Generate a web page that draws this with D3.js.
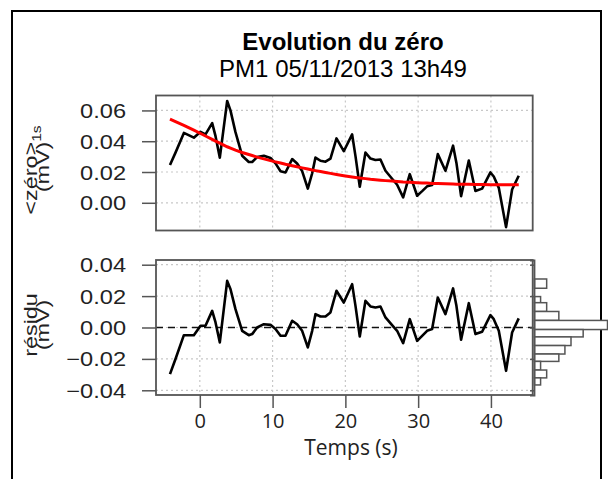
<!DOCTYPE html>
<html><head><meta charset="utf-8">
<script src="https://cdn.jsdelivr.net/npm/d3@7/dist/d3.min.js"></script>
<style>body{margin:0;background:#fff}svg{display:block}</style>
</head><body><svg id="c" width="608" height="479"></svg>
<script>
// ---- data ----
const time = [-4.1,-3.34,-2.19,-0.82,0.10,0.78,1.70,2.16,2.75,3.76,4.22,4.90,5.82,6.73,7.19,7.88,8.80,9.71,10.40,11.09,11.77,12.69,13.37,14.06,14.84,15.44,15.89,16.58,17.27,17.95,18.78,19.78,20.93,21.39,21.98,22.76,23.45,24.13,24.82,25.51,26.42,27.11,27.94,28.85,29.86,30.55,31.23,31.92,32.70,33.75,34.80,35.26,35.90,36.96,37.87,38.79,39.93,40.39,41.08,42.08,42.91,43.82];
const zero = [0.0246,0.0326,0.0454,0.0423,0.0461,0.0445,0.0518,0.0433,0.0293,0.0661,0.0599,0.0459,0.0306,0.0265,0.0265,0.0297,0.0306,0.0291,0.0256,0.0205,0.0197,0.0284,0.0255,0.0206,0.0092,0.0192,0.0294,0.0273,0.0267,0.0287,0.0418,0.0335,0.0444,0.0303,0.0104,0.0327,0.0287,0.0278,0.0281,0.0208,0.0156,0.0117,0.0035,0.0186,0.0046,0.0076,0.0107,0.0116,0.0316,0.0208,0.0371,0.0259,0.0043,0.0275,0.0077,0.0092,0.0197,0.0171,0.0097,-0.0158,0.0086,0.0176];
const fit = [0.0543,0.0527,0.0503,0.0472,0.0450,0.0434,0.0412,0.0401,0.0388,0.0364,0.0355,0.0342,0.0327,0.0314,0.0307,0.0297,0.0285,0.0274,0.0266,0.0258,0.0250,0.0241,0.0234,0.0227,0.0219,0.0213,0.0209,0.0203,0.0197,0.0191,0.0184,0.0176,0.0168,0.0165,0.0161,0.0157,0.0153,0.0150,0.0147,0.0144,0.0141,0.0138,0.0135,0.0133,0.0131,0.0129,0.0128,0.0126,0.0125,0.0123,0.0122,0.0121,0.0121,0.0120,0.0119,0.0119,0.0118,0.0118,0.0118,0.0118,0.0118,0.0118];
const residu = [-0.0297,-0.0201,-0.0049,-0.0049,0.0011,0.0011,0.0106,0.0032,-0.0095,0.0297,0.0244,0.0117,-0.0021,-0.0049,-0.0042,0.0000,0.0021,0.0017,-0.0010,-0.0053,-0.0053,0.0043,0.0021,-0.0021,-0.0127,-0.0021,0.0085,0.0070,0.0070,0.0096,0.0234,0.0159,0.0276,0.0138,-0.0057,0.0170,0.0134,0.0128,0.0134,0.0064,0.0015,-0.0021,-0.0100,0.0053,-0.0085,-0.0053,-0.0021,-0.0010,0.0191,0.0085,0.0249,0.0138,-0.0078,0.0155,-0.0042,-0.0027,0.0079,0.0053,-0.0021,-0.0276,-0.0032,0.0058];
const histEdges = [0.0309,0.0250,0.0197,0.0158,0.0102,0.0045,-0.0013,-0.0060,-0.0115,-0.0169,-0.0216,-0.0271,-0.0321,-0.0366];
const histCounts = [2,0,1,2,4,12,8,6,5,4,1,2,1];
const xTicks = [0,10,20,30,40];
const yTopTicks = [0.00,0.02,0.04,0.06];
const yResTicks = [-0.04,-0.02,0.00,0.02,0.04];
const title = "Evolution du zéro";
const subtitle = "PM1 05/11/2013 13h49";
const xLabel = "Temps (s)";

// ---- scales ----
const svg = d3.select("#c");
const x = d3.scaleLinear().domain([-6.02, 45.74]).range([156, 532.7]);
const yTop = d3.scaleLinear().domain([-0.018, 0.0697]).range([230.5, 95.5]);
const yRes = d3.scaleLinear().domain([-0.043, 0.043]).range([395, 260]);
const xh = d3.scaleLinear().domain([0, 12]).range([534.5, 607.5]);

// outer frame
svg.append("path").attr("d","M12,479 L12,11 L601,11 L601,479")
  .attr("fill","none").attr("stroke","#000").attr("stroke-width",2);

const font = "Liberation Sans, Arial, sans-serif";
svg.append("text").attr("x",343).attr("y",50).attr("text-anchor","middle")
  .attr("font-family",font).attr("font-weight","bold").attr("font-size",24).text(title);
svg.append("text").attr("x",343).attr("y",77).attr("text-anchor","middle")
  .attr("font-family",font).attr("font-size",24).text(subtitle);

function panel(y, yTicks, top, bottom){
  const g = svg.append("g");
  g.selectAll(".gx").data(xTicks).enter().append("line")
    .attr("x1",d=>x(d)).attr("x2",d=>x(d)).attr("y1",top).attr("y2",bottom)
    .attr("stroke","#c8c8c8").attr("stroke-dasharray","2,3").attr("stroke-width",1.2);
  g.selectAll(".gy").data(yTicks).enter().append("line")
    .attr("x1",156).attr("x2",532.7).attr("y1",d=>y(d)).attr("y2",d=>y(d))
    .attr("stroke","#c8c8c8").attr("stroke-dasharray","2,3").attr("stroke-width",1.2);
  const ax = g.append("g").attr("transform","translate(156,0)")
    .call(d3.axisLeft(y).tickValues(yTicks).tickFormat(d3.format(".2f")).tickSize(14).tickPadding(0));
  ax.select(".domain").remove();
  ax.selectAll("line").attr("stroke","#555").attr("stroke-width",1.5);
  ax.selectAll("text").attr("x",null).attr("dy",null)
    .attr("transform","translate(-30,7) scale(1.18,1)")
    .attr("font-family",font).attr("font-size",20).attr("fill","#222");
  return g;
}
const gTop = panel(yTop, yTopTicks, 95.5, 230.5);
const gRes = panel(yRes, yResTicks, 260, 395);

gRes.append("line").attr("x1",156).attr("x2",532.7).attr("y1",yRes(0)).attr("y2",yRes(0))
  .attr("stroke","#111").attr("stroke-width",1.6).attr("stroke-dasharray","7,5");

const lineTop = d3.line().x((d,i)=>x(time[i])).y(d=>yTop(d));
gTop.append("path").datum(zero).attr("d",lineTop).attr("fill","none")
  .attr("stroke","#000").attr("stroke-width",2.6).attr("stroke-linejoin","round");
gTop.append("path").datum(fit).attr("d",lineTop).attr("fill","none")
  .attr("stroke","#ff0000").attr("stroke-width",3);
const lineRes = d3.line().x((d,i)=>x(time[i])).y(d=>yRes(d));
gRes.append("path").datum(residu).attr("d",lineRes).attr("fill","none")
  .attr("stroke","#000").attr("stroke-width",2.6).attr("stroke-linejoin","round");

[[95.5,230.5],[260,395]].forEach(([t,b])=>{
  svg.append("rect").attr("x",156).attr("y",t).attr("width",532.7-156).attr("height",b-t)
    .attr("fill","none").attr("stroke","#555").attr("stroke-width",1.8);
});

const xa = svg.append("g").attr("transform","translate(0,395)")
  .call(d3.axisBottom(x).tickValues(xTicks).tickSize(13).tickPadding(6));
xa.select(".domain").remove();
xa.selectAll("line").attr("stroke","#555").attr("stroke-width",1.5);
xa.selectAll("text").attr("font-family","Open Sans, sans-serif").attr("font-size",20).attr("fill","#222");
svg.append("text").attr("x",351).attr("y",455).attr("text-anchor","middle")
  .attr("font-family","Open Sans, sans-serif").attr("font-size",21).attr("fill","#222").text(xLabel);

// y titles (text stretched along its length, as in the reference)
function ytitle(bx, cy, build){
  const t = svg.append("text").attr("transform",`translate(${bx},${cy}) rotate(-90) scale(1.3,1)`)
    .attr("text-anchor","middle").attr("font-family",font).attr("font-size",18).attr("fill","#222");
  build(t);
}
ytitle(37,170,t=>{ t.append("tspan").text("<zéro>"); t.append("tspan").attr("font-size",12).attr("dy",4).text("1s"); });
ytitle(49,167,t=>t.text("(mV)"));
ytitle(37,325,t=>t.text("résidu"));
ytitle(49,325,t=>t.text("(mV)"));

// histogram
const hg = svg.append("g");
histCounts.forEach((c,i)=>{
  if(c<=0) return;
  const y0 = yRes(histEdges[i]), y1 = yRes(histEdges[i+1]);
  hg.append("rect").attr("x",xh(0)).attr("y",y0).attr("width",xh(c)-xh(0)).attr("height",y1-y0)
    .attr("fill","#fff").attr("stroke","#555").attr("stroke-width",1.5);
});
const ha = hg.append("g").attr("transform","translate(534,0)")
  .call(d3.axisLeft(yRes).tickValues(yResTicks).tickSize(4).tickFormat(""));
ha.select(".domain").attr("stroke","#555").attr("stroke-width",1.8);
ha.selectAll("line").attr("stroke","#555").attr("stroke-width",1.5);
</script></body></html>
